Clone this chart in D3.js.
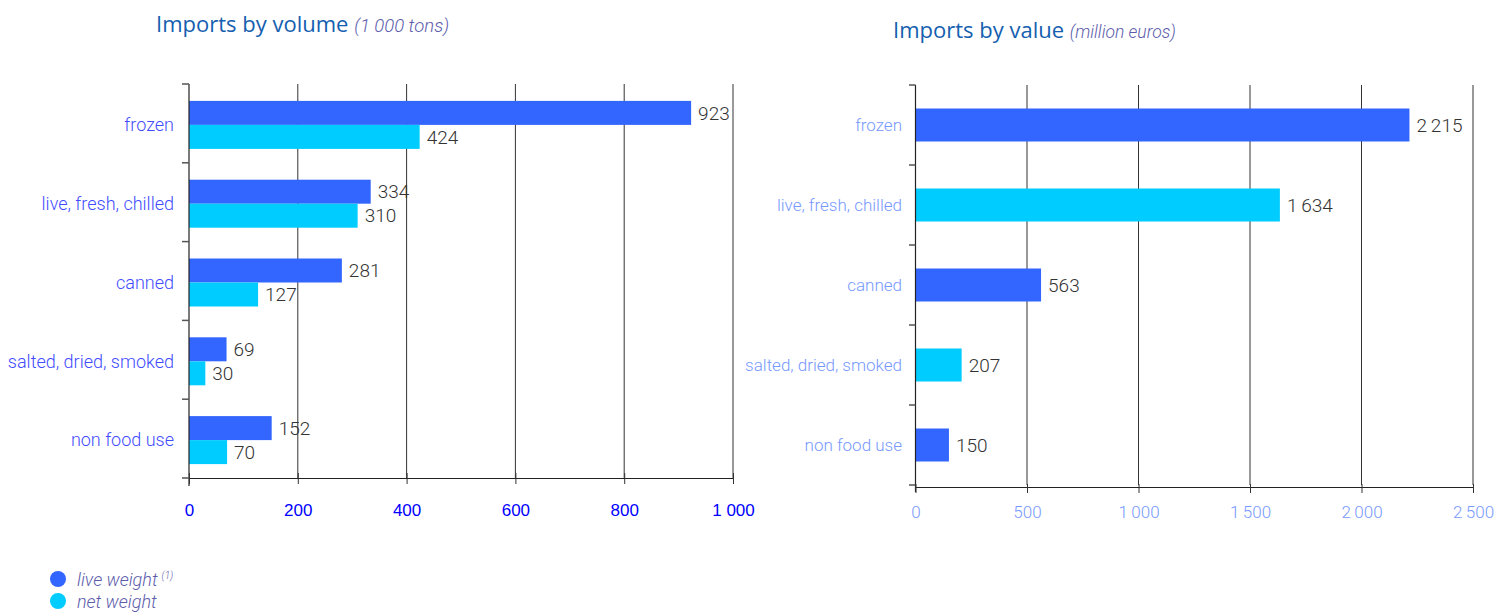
<!DOCTYPE html>
<html>
<head>
<meta charset="utf-8">
<script src="https://cdn.jsdelivr.net/npm/d3@7"></script>
<style>
  body { margin: 0; background: #fff; }
  svg { display: block; }
</style>
</head>
<body>
<svg id="chart" width="1494" height="613"></svg>
<script>
// ---------- data ----------
const categories = ["frozen", "live, fresh, chilled", "canned", "salted, dried, smoked", "non food use"];
const volumeLive = [923, 334, 281, 69, 152];
const volumeNet = [424, 310, 127, 30, 70];
const valueValues = [2215, 1634, 563, 207, 150];
const valueSeries = ["live", "net", "live", "net", "live"];
const volumeTicks = [0, 200, 400, 600, 800, 1000];
const valueTicks = [0, 500, 1000, 1500, 2000, 2500];
const legendLabels = ["live weight", "net weight"];

// ---------- styles ----------
const colLive = "#3366ff", colNet = "#00ccff";
const fmt = v => d3.format(",")(v).replace(/,/g, "\u200A\u200A");
const fmtTick = v => d3.format(",")(v).replace(/,/g, " ");
const svg = d3.select("#chart");
const lightFont = "Roboto, 'Open Sans', sans-serif";

// ---------- left chart: volume ----------
const xL = d3.scaleLinear().domain([0, 1000]).range([189, 733]);
const yL = d3.scaleBand().domain(categories).range([84, 478]);
const gL = svg.append("g");

gL.selectAll("line.grid").data(volumeTicks.slice(1)).join("line")
  .attr("x1", d => xL(d)).attr("x2", d => xL(d))
  .attr("y1", 84).attr("y2", 478)
  .attr("stroke", "#333").attr("stroke-width", 1);

const barH = 24;
gL.selectAll("rect.live").data(categories).join("rect")
  .attr("x", xL(0)).attr("y", (d) => yL(d) + yL.bandwidth() / 2 - barH + 1.5)
  .attr("width", (d, i) => xL(volumeLive[i]) - xL(0)).attr("height", barH)
  .attr("fill", colLive);
gL.selectAll("rect.net").data(categories).join("rect")
  .attr("x", xL(0)).attr("y", (d) => yL(d) + yL.bandwidth() / 2 + 1.5)
  .attr("width", (d, i) => xL(volumeNet[i]) - xL(0)).attr("height", barH)
  .attr("fill", colNet);

gL.selectAll("text.vl").data(categories).join("text")
  .attr("x", (d, i) => xL(volumeLive[i]) + 7)
  .attr("y", d => yL(d) + yL.bandwidth() / 2 - barH / 2 + 1.5)
  .attr("dy", "0.35em")
  .attr("font-family", lightFont).attr("font-weight", 300).attr("font-size", 19)
  .attr("fill", "#333").text((d, i) => fmt(volumeLive[i]));
gL.selectAll("text.vn").data(categories).join("text")
  .attr("x", (d, i) => xL(volumeNet[i]) + 7)
  .attr("y", d => yL(d) + yL.bandwidth() / 2 + barH / 2 + 1.5)
  .attr("dy", "0.35em")
  .attr("font-family", lightFont).attr("font-weight", 300).attr("font-size", 19)
  .attr("fill", "#333").text((d, i) => fmt(volumeNet[i]));

const yAxisL = gL.append("g");
yAxisL.append("line").attr("x1", 189).attr("x2", 189).attr("y1", 84).attr("y2", 486)
  .attr("stroke", "#222").attr("stroke-width", 1.2);
const bL = categories.map(c => yL(c)).concat([478]);
yAxisL.selectAll("line.t").data(bL).join("line")
  .attr("x1", 182).attr("x2", 189).attr("y1", d => d).attr("y2", d => d)
  .attr("stroke", "#555").attr("stroke-width", 1.5);
yAxisL.selectAll("text").data(categories).join("text")
  .attr("x", 174).attr("y", d => yL(d) + yL.bandwidth() / 2 + 1.5).attr("dy", "0.35em")
  .attr("text-anchor", "end").attr("font-family", lightFont).attr("font-weight", 300)
  .attr("font-size", 18).attr("fill", "#3f4cff").text(d => d);

const xAxisL = gL.append("g").attr("transform", "translate(0,478)")
  .call(d3.axisBottom(xL).tickValues(volumeTicks).tickSize(0).tickFormat(fmtTick));
xAxisL.select(".domain").attr("stroke", "#222").attr("stroke-width", 1.2);
xAxisL.selectAll(".tick").append("line").attr("y1", -5).attr("y2", 6).attr("stroke", "#333");
xAxisL.selectAll(".tick text").attr("y", 26).attr("font-family", "'Liberation Sans', Arial, sans-serif")
  .attr("font-size", 17).attr("fill", "#0000ff");

const tL = svg.append("text").attr("x", 156).attr("y", 32)
  .attr("font-family", "'Open Sans', sans-serif").attr("font-size", 22).attr("fill", "#1560b0");
tL.append("tspan").text("Imports by volume ");
tL.append("tspan").attr("font-family", lightFont).attr("font-size", 18.5).attr("font-style", "italic").attr("font-weight", 300)
  .attr("fill", "#5c5cab").text("(1 000 tons)");

// ---------- right chart: value ----------
const xR = d3.scaleLinear().domain([0, 2500]).range([915.5, 1473]);
const yR = d3.scaleBand().domain(categories).range([85, 485]);
const gR = svg.append("g");

gR.selectAll("line.grid").data(valueTicks.slice(1)).join("line")
  .attr("x1", d => xR(d)).attr("x2", d => xR(d))
  .attr("y1", 85).attr("y2", 485)
  .attr("stroke", "#333").attr("stroke-width", 1);

const barHR = 33;
gR.selectAll("rect.v").data(categories).join("rect")
  .attr("x", xR(0)).attr("y", d => yR(d) + yR.bandwidth() / 2 - barHR / 2)
  .attr("width", (d, i) => xR(valueValues[i]) - xR(0)).attr("height", barHR)
  .attr("fill", (d, i) => valueSeries[i] === "live" ? colLive : colNet);

gR.selectAll("text.v").data(categories).join("text")
  .attr("x", (d, i) => xR(valueValues[i]) + 7)
  .attr("y", d => yR(d) + yR.bandwidth() / 2).attr("dy", "0.35em")
  .attr("font-family", lightFont).attr("font-weight", 300).attr("font-size", 19)
  .attr("fill", "#333").text((d, i) => fmt(valueValues[i]));

const yAxisR = gR.append("g");
yAxisR.append("line").attr("x1", 915.5).attr("x2", 915.5).attr("y1", 85).attr("y2", 492)
  .attr("stroke", "#222").attr("stroke-width", 1.2);
const bR = categories.map(c => yR(c)).concat([485]);
yAxisR.selectAll("line.t").data(bR).join("line")
  .attr("x1", 909).attr("x2", 915.5).attr("y1", d => d).attr("y2", d => d)
  .attr("stroke", "#555").attr("stroke-width", 1.5);
yAxisR.selectAll("text").data(categories).join("text")
  .attr("x", 902).attr("y", d => yR(d) + yR.bandwidth() / 2).attr("dy", "0.35em")
  .attr("text-anchor", "end").attr("font-family", lightFont).attr("font-weight", 300)
  .attr("font-size", 17).attr("fill", "#7799ff").text(d => d);

const xAxisR = gR.append("g").attr("transform", "translate(0,487)")
  .call(d3.axisBottom(xR).tickValues(valueTicks).tickSize(0).tickFormat(fmt));
xAxisR.select(".domain").attr("stroke", "#222").attr("stroke-width", 1.2);
xAxisR.selectAll(".tick").append("line").attr("y1", -3).attr("y2", 6).attr("stroke", "#333");
xAxisR.selectAll(".tick text").attr("y", 19).attr("font-family", lightFont).attr("font-weight", 300)
  .attr("font-size", 17).attr("fill", "#7799ff");

const tR = svg.append("text").attr("x", 893).attr("y", 38)
  .attr("font-family", "'Open Sans', sans-serif").attr("font-size", 22).attr("fill", "#1560b0");
tR.append("tspan").text("Imports by value ");
tR.append("tspan").attr("font-family", lightFont).attr("font-size", 17.5).attr("font-style", "italic").attr("font-weight", 300)
  .attr("fill", "#5c5cab").text("(million euros)");

// ---------- legend ----------
const leg = svg.append("g");
const legColors = [colLive, colNet];
leg.selectAll("circle").data(legendLabels).join("circle")
  .attr("cx", 58).attr("cy", (d, i) => 579 + i * 22).attr("r", 8)
  .attr("fill", (d, i) => legColors[i]);
const lt = leg.selectAll("text").data(legendLabels).join("text")
  .attr("x", 77).attr("y", (d, i) => 580 + i * 22).attr("dy", "0.35em")
  .attr("font-family", lightFont).attr("font-weight", 300).attr("font-style", "italic")
  .attr("font-size", 18).attr("fill", "#5c5cab");
lt.append("tspan").text(d => d);
lt.filter((d, i) => i === 0).append("tspan").attr("font-size", 10).attr("dy", "-0.7em").attr("dx", 4).text("(1)");
</script>
</body>
</html>
